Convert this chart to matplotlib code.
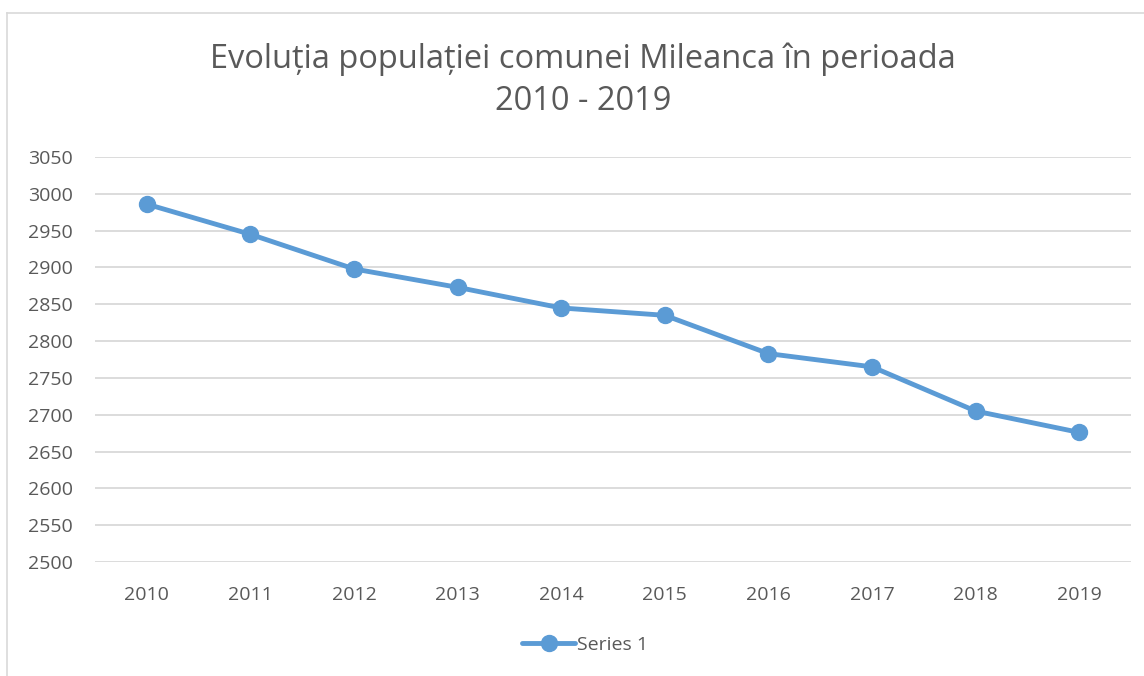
import matplotlib.pyplot as plt
from matplotlib.lines import Line2D

years = ['2010', '2011', '2012', '2013', '2014', '2015', '2016', '2017', '2018', '2019']
population = [2986, 2945, 2898, 2873, 2845, 2835, 2783, 2765, 2705, 2676]
y_ticks = list(range(2500, 3051, 50))

plt.rcParams['font.family'] = ['Open Sans', 'DejaVu Sans']
text_color = '#595959'
line_color = '#5B9BD5'

fig = plt.figure(figsize=(11.44, 6.76), dpi=100)
W, H = 1144, 676
ax = fig.add_axes([95 / W, 1 - 562 / H, (1131 - 95) / W, (562 - 157) / H])

x = list(range(len(years)))
ax.plot(x, population, color=line_color, linewidth=3.5, marker='o',
        markersize=11.5, label='Series 1', solid_capstyle='round')

ax.set_xlim(-0.5, len(years) - 0.5)
ax.set_ylim(2500, 3050)
ax.set_yticks(y_ticks)
ax.set_xticks(x)
ax.set_xticklabels(years)
ax.grid(axis='y', color='#d9d9d9', linewidth=1.3)
ax.set_axisbelow(True)
for s in ax.spines.values():
    s.set_visible(False)
ax.tick_params(length=0, labelsize=14, colors=text_color)
ax.tick_params(axis='y', pad=16)
ax.tick_params(axis='x', pad=17)

# titlu
fig.text(583 / W, 1 - 80 / H, 'Evoluția populației comunei Mileanca în perioada\n2010 - 2019',
         ha='center', va='center', fontsize=23.5, color=text_color, linespacing=1.38)

# legenda
leg = fig.legend(loc='center', bbox_to_anchor=(585 / W, 1 - 645 / H), frameon=False,
                 fontsize=14, handlelength=2.7, handletextpad=0.1)
for t in leg.get_texts():
    t.set_color(text_color)

# chenar
fig.add_artist(Line2D([7 / W, 1], [1 - 12.5 / H] * 2, color='#d9d9d9', linewidth=1.2))
fig.add_artist(Line2D([7 / W] * 2, [0, 1 - 12.5 / H], color='#d9d9d9', linewidth=1.2))

fig.savefig('out.png', dpi=100)
